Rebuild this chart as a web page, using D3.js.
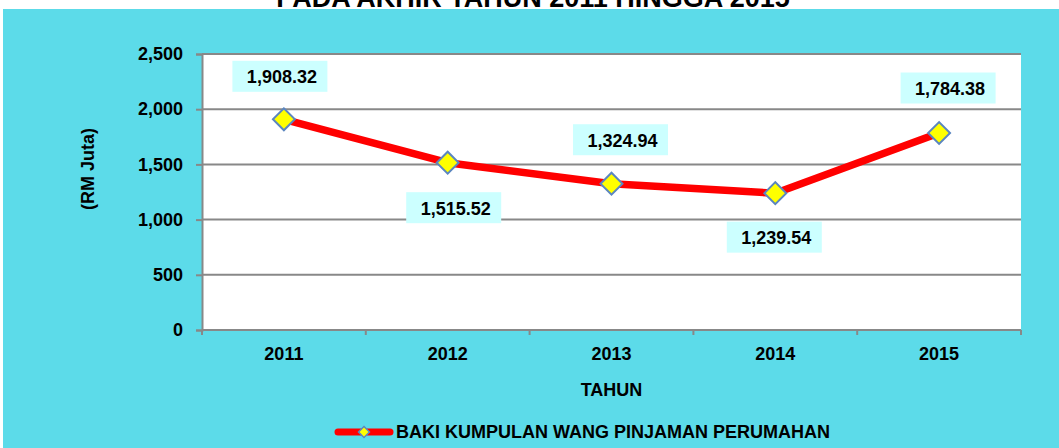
<!DOCTYPE html>
<html>
<head>
<meta charset="utf-8">
<script src="https://cdn.jsdelivr.net/npm/d3@7"></script>
<style>
  body { margin: 0; background: #fff; }
  text { font-family: "Liberation Sans", Arial, sans-serif; font-weight: bold; fill: #000; }
</style>
</head>
<body>
<svg id="chart" width="1059" height="448"></svg>
<script>
const years = ['2011', '2012', '2013', '2014', '2015'];
const values = [1908.32, 1515.52, 1324.94, 1239.54, 1784.38];
const labelTexts = ['1,908.32', '1,515.52', '1,324.94', '1,239.54', '1,784.38'];
const yTicks = [0, 500, 1000, 1500, 2000, 2500];
const seriesName = 'BAKI KUMPULAN WANG PINJAMAN PERUMAHAN';

// where each data label box sits, relative to its point
const labelOffsets = [[-4, -43], [6, 45], [9, -44], [-1, 44], [9, -45]];

const svg = d3.select('#chart');
const width = 1059, height = 448;

// cyan chart background, white strip above it holds the cut-off title
svg.append('rect')
  .attr('x', 3).attr('y', 9)
  .attr('width', width - 3).attr('height', height - 9)
  .attr('fill', '#5cdbe9');

svg.append('text')
  .attr('x', 533).attr('y', 7)
  .attr('text-anchor', 'middle')
  .style('font-size', '27px')
  .text('PADA AKHIR TAHUN 2011 HINGGA 2015');

const plot = { left: 202, right: 1021, top: 54, bottom: 330 };

const x = d3.scaleBand()
  .domain(years)
  .range([plot.left, plot.right]);

const y = d3.scaleLinear()
  .domain([0, 2500])
  .range([plot.bottom, plot.top]);

svg.append('rect')
  .attr('x', plot.left).attr('y', plot.top)
  .attr('width', plot.right - plot.left).attr('height', plot.bottom - plot.top)
  .attr('fill', '#fff');

// gridlines
svg.append('g')
  .selectAll('line')
  .data(yTicks.filter(d => d > 0))
  .join('line')
    .attr('x1', plot.left).attr('x2', plot.right)
    .attr('y1', d => y(d)).attr('y2', d => y(d))
    .attr('stroke', '#888').attr('stroke-width', 2);

// y axis
const yAxis = svg.append('g')
  .attr('transform', `translate(${plot.left},0)`)
  .call(d3.axisLeft(y).tickValues(yTicks).tickSize(6).tickPadding(13).tickFormat(d3.format(',')));
yAxis.select('.domain').attr('stroke', '#888').attr('stroke-width', 2);
yAxis.selectAll('.tick line').attr('stroke', '#888').attr('stroke-width', 2);
yAxis.selectAll('.tick text')
  .style('font-size', '18px')
  .style('font-family', '"Liberation Sans", Arial, sans-serif')
  .style('font-weight', 'bold')
  .attr('fill', '#000');

// x axis: ticks sit on the category boundaries
svg.append('line')
  .attr('x1', plot.left).attr('x2', plot.right)
  .attr('y1', plot.bottom).attr('y2', plot.bottom)
  .attr('stroke', '#888').attr('stroke-width', 2);

const boundaries = years.map(d => x(d)).concat([x(years[years.length - 1]) + x.bandwidth()]);
svg.append('g')
  .selectAll('line')
  .data(boundaries)
  .join('line')
    .attr('x1', d => d).attr('x2', d => d)
    .attr('y1', plot.bottom).attr('y2', plot.bottom + 5)
    .attr('stroke', '#888').attr('stroke-width', 2);

svg.append('g')
  .selectAll('text')
  .data(years)
  .join('text')
    .attr('x', d => x(d) + x.bandwidth() / 2)
    .attr('y', 360)
    .attr('text-anchor', 'middle')
    .style('font-size', '18px')
    .text(d => d);

svg.append('text')
  .attr('x', x(years[2]) + x.bandwidth() / 2)
  .attr('y', 396)
  .attr('text-anchor', 'middle')
  .style('font-size', '18px')
  .text('TAHUN');

svg.append('text')
  .attr('transform', 'translate(94,169) rotate(-90)')
  .attr('text-anchor', 'middle')
  .style('font-size', '18px')
  .text('(RM Juta)');

// line + markers
const cx = (d, i) => x(years[i]) + x.bandwidth() / 2;

svg.append('path')
  .datum(values)
  .attr('d', d3.line().x(cx).y(d => y(d)))
  .attr('fill', 'none')
  .attr('stroke', '#ff0000')
  .attr('stroke-width', 7.5)
  .attr('stroke-linejoin', 'round');

svg.append('g')
  .selectAll('path')
  .data(values)
  .join('path')
    .attr('transform', (d, i) => `translate(${cx(d, i)},${y(d)}) rotate(45)`)
    .attr('d', d3.symbol().type(d3.symbolSquare).size(240))
    .attr('fill', '#ffff00')
    .attr('stroke', '#5b86c0')
    .attr('stroke-width', 2);

// data labels in pale cyan boxes
const boxW = 95, boxH = 31;
const labels = svg.append('g')
  .selectAll('g')
  .data(values)
  .join('g')
    .attr('transform', (d, i) =>
      `translate(${cx(d, i) + labelOffsets[i][0]},${y(d) + labelOffsets[i][1]})`);

labels.append('rect')
  .attr('x', -boxW / 2).attr('y', -boxH / 2)
  .attr('width', boxW).attr('height', boxH)
  .attr('fill', '#ccffff');

labels.append('text')
  .attr('x', 2)
  .attr('text-anchor', 'middle')
  .attr('dy', '0.38em')
  .style('font-size', '18px')
  .text((d, i) => labelTexts[i]);

// legend
const legend = svg.append('g').attr('transform', 'translate(336,432)');
legend.append('line')
  .attr('x1', 2).attr('x2', 54)
  .attr('y1', 0).attr('y2', 0)
  .attr('stroke', '#ff0000').attr('stroke-width', 7)
  .attr('stroke-linecap', 'round');
legend.append('path')
  .attr('transform', 'translate(28,0) rotate(45)')
  .attr('d', d3.symbol().type(d3.symbolSquare).size(60))
  .attr('fill', '#ffff00')
  .attr('stroke', '#5b86c0')
  .attr('stroke-width', 1.5);
legend.append('text')
  .attr('x', 60).attr('y', 0)
  .attr('dy', '0.36em')
  .style('font-size', '18px')
  .text(seriesName);
</script>
</body>
</html>
